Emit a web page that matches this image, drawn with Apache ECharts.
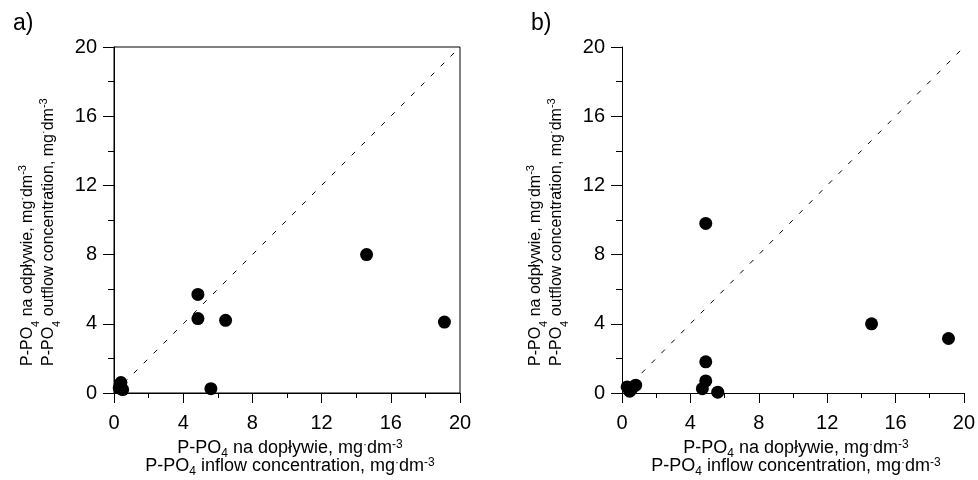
<!DOCTYPE html>
<html>
<head>
<meta charset="utf-8">
<script src="https://cdn.jsdelivr.net/npm/echarts@6/dist/echarts.min.js"></script>
<style>
html,body{margin:0;padding:0;background:#fff;}
#c{width:978px;height:480px;}
</style>
</head>
<body>
<div id="c"></div>
<script>
// ---- data ----
const tickValues = [0, 4, 8, 12, 16, 20];
const panelLabels = ['a)', 'b)'];
const inflowA  = [0.3, 0.4, 0.5, 4.85, 4.85, 5.6, 6.45, 14.6, 19.1];
const outflowA = [0.3, 0.6, 0.2, 5.7, 4.3, 0.25, 4.2, 8.0, 4.1];
const inflowB  = [0.3, 0.45, 0.6, 0.8, 4.7, 4.9, 4.9, 5.6, 4.9, 14.6, 19.1];
const outflowB = [0.35, 0.1, 0.3, 0.45, 0.25, 0.7, 1.8, 0.05, 9.8, 4.0, 3.15];
const identityLine = [[0, 0], [20, 20]];

const FONT = 'Liberation Sans, Arial, sans-serif';
function makeRich(fs, lh) {
  const s = Math.round(fs * 0.68);
  return {
    t:   {fontSize: fs, fontFamily: FONT, lineHeight: lh, fill: '#000'},
    sub: {fontSize: s, fontFamily: FONT, lineHeight: s, verticalAlign: 'bottom', padding: [0, 0, -3, 0], fill: '#000'},
    sup: {fontSize: s, fontFamily: FONT, lineHeight: s, verticalAlign: 'top', fill: '#000'},
    dot: {fontSize: s, fontFamily: FONT, lineHeight: s, verticalAlign: 'top', fill: '#000'}
  };
}
const richX = makeRich(18, 18);
const richY = makeRich(16, 21);

const xName = '{t|P-PO}{sub|4}{t| na dopływie, mg}{dot|·}{t|dm}{sup|-3}\n{t|P-PO}{sub|4}{t| inflow concentration, mg}{dot|·}{t|dm}{sup|-3}';
const yName = '{t|P-PO}{sub|4}{t| na odpływie, mg}{dot|·}{t|dm}{sup|-3}\n{t|P-PO}{sub|4}{t| outflow concentration, mg}{dot|·}{t|dm}{sup|-3}';

function pairs(xs, ys) { return xs.map((v, i) => [v, ys[i]]); }

const grids = [
  {left: 114, top: 47, width: 346, height: 346, show: true, borderColor: '#000', borderWidth: 1, backgroundColor: 'transparent'},
  {left: 622, top: 47, width: 345, height: 346, show: false}
];

function xAxis(gi) {
  return {
    gridIndex: gi, type: 'value', min: tickValues[0], max: tickValues[tickValues.length - 1], interval: 4,
    axisLine: {show: true, lineStyle: {color: '#000', width: 1}},
    axisTick: {show: true, inside: false, length: 10, lineStyle: {color: '#000'}},
    minorTick: {show: true, splitNumber: 2, length: 5, lineStyle: {color: '#000'}},
    splitLine: {show: false},
    axisLabel: {fontSize: 20, fontFamily: FONT, color: '#000', margin: 20}
  };
}
function yAxis(gi) {
  return {
    gridIndex: gi, type: 'value', min: tickValues[0], max: tickValues[tickValues.length - 1], interval: 4,
    axisLine: {show: true, lineStyle: {color: '#000', width: 1}},
    axisTick: {show: true, inside: false, length: 11, lineStyle: {color: '#000'}},
    minorTick: {show: true, splitNumber: 2, length: 6, lineStyle: {color: '#000'}},
    splitLine: {show: false},
    axisLabel: {fontSize: 20, fontFamily: FONT, color: '#000', margin: 17}
  };
}
function yTitle(x) {
  return {
    type: 'text', x: x, y: 366, rotation: Math.PI / 2, silent: true,
    style: {text: yName, rich: richY, align: 'left', verticalAlign: 'middle', fill: '#000',
            font: '16px ' + FONT}
  };
}
function xTitle(x) {
  return {
    type: 'text', x: x, y: 439, silent: true,
    style: {text: xName, rich: richX, align: 'center', verticalAlign: 'top', fill: '#000',
            font: '18px ' + FONT}
  };
}

const option = {
  animation: false,
  backgroundColor: '#fff',
  title: [
    {text: panelLabels[0], left: 8, top: 7, textStyle: {fontSize: 23, fontWeight: 'normal', fontFamily: FONT, color: '#000'}},
    {text: panelLabels[1], left: 526, top: 7, textStyle: {fontSize: 23, fontWeight: 'normal', fontFamily: FONT, color: '#000'}}
  ],
  graphic: [yTitle(38), yTitle(546), xTitle(290), xTitle(796)],
  grid: grids,
  xAxis: [xAxis(0), xAxis(1)],
  yAxis: [yAxis(0), yAxis(1)],
  series: [
    {type: 'line', xAxisIndex: 0, yAxisIndex: 0, data: identityLine, symbol: 'none', silent: true,
     lineStyle: {color: '#000', width: 1, type: [5, 9]}},
    {type: 'line', xAxisIndex: 1, yAxisIndex: 1, data: identityLine, symbol: 'none', silent: true,
     lineStyle: {color: '#000', width: 1, type: [5, 9]}},
    {type: 'scatter', xAxisIndex: 0, yAxisIndex: 0, data: pairs(inflowA, outflowA), symbol: 'circle', symbolSize: 13,
     itemStyle: {color: '#000', opacity: 1}},
    {type: 'scatter', xAxisIndex: 1, yAxisIndex: 1, data: pairs(inflowB, outflowB), symbol: 'circle', symbolSize: 13,
     itemStyle: {color: '#000', opacity: 1}}
  ]
};
const chart = echarts.init(document.getElementById('c'), null, {renderer: 'canvas'});
chart.setOption(option);
</script>
</body>
</html>
